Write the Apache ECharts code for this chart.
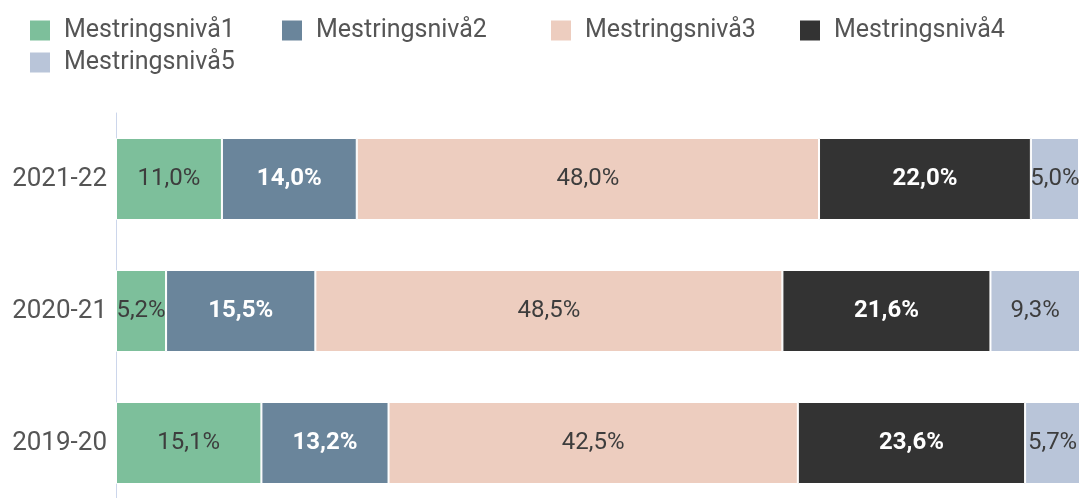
<!DOCTYPE html>
<html>
<head>
    <meta charset="utf-8">
    <script src="https://cdn.jsdelivr.net/npm/echarts@6/dist/echarts.min.js"></script>
    <style>
        html, body { margin: 0; padding: 0; background: #fff; overflow: hidden; }
        #main { width: 1086px; height: 509px; }
    </style>
</head>
<body>
<div id="main"></div>
<script type="text/javascript">
// 数据
var years = ['2019-20', '2020-21', '2021-22'];
var names = ['Mestringsnivå1', 'Mestringsnivå2', 'Mestringsnivå3', 'Mestringsnivå4', 'Mestringsnivå5'];
var niva1 = [15.1, 5.2, 11.0];
var niva2 = [13.2, 15.5, 14.0];
var niva3 = [42.5, 48.5, 48.0];
var niva4 = [23.6, 21.6, 22.0];
var niva5 = [5.7, 9.3, 5.0];
var colors = ['#7dbf9b', '#6a859b', '#edcdbf', '#333333', '#b9c5d9'];

var values = [niva1, niva2, niva3, niva4, niva5];
var darkBar = [false, true, false, true, false];

// 图例位置（每个一个 legend）
var legendPos = [[28, 18], [280, 18], [549, 18], [798, 18], [28, 50]];

// 基于准备好的dom，初始化echarts实例（画布比窗口略高，底部被裁掉）
var myChart = echarts.init(document.getElementById('main'));

var legends = names.map(function (n, i) {
    return {
        data: [n],
        left: legendPos[i][0],
        top: legendPos[i][1],
        padding: 0,
        itemWidth: 22,
        itemHeight: 22,
        icon: 'rect',
        selectedMode: false,
        textStyle: {
            fontFamily: 'Roboto',
            fontSize: 25,
            color: '#555',
            padding: [3, 0, 0, 8]
        }
    };
});

var series = names.map(function (n, i) {
    return {
        name: n,
        type: 'bar',
        stack: 'total',
        barWidth: 82,
        data: values[i],
        itemStyle: {
            color: colors[i],
            borderColor: '#fff',
            borderWidth: 1
        },
        label: {
            show: true,
            position: 'inside',
            fontFamily: 'Roboto',
            fontSize: 24,
            fontWeight: darkBar[i] ? 'bold' : 'normal',
            color: darkBar[i] ? '#fff' : '#3d3d3d',
            formatter: function (p) {
                return p.value.toFixed(1).replace('.', ',') + '%';
            }
        },
        emphasis: { disabled: true }
    };
});

var option = {
    animation: false,
    textStyle: { fontFamily: 'Roboto' },
    legend: legends,
    grid: {
        left: 116,
        right: 6,
        top: 113,
        bottom: 0,
        containLabel: false
    },
    xAxis: {
        type: 'value',
        min: 0,
        max: 100.1,
        show: false
    },
    yAxis: {
        type: 'category',
        data: years,
        axisLine: { show: true, lineStyle: { color: '#ccd6eb', width: 1 } },
        axisTick: { show: false },
        axisLabel: {
            fontFamily: 'Roboto',
            fontSize: 26,
            color: '#555',
            margin: 9
        }
    },
    series: series
};

myChart.setOption(option);
</script>
</body>
</html>
